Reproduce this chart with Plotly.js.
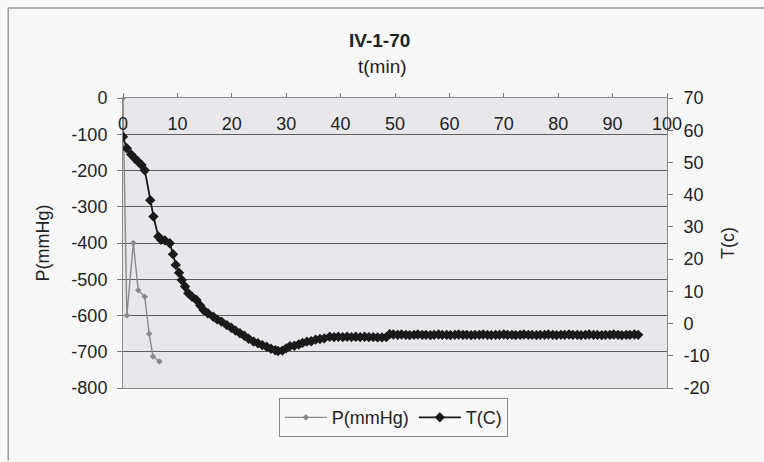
<!DOCTYPE html>
<html>
<head>
<meta charset="utf-8">
<script src="https://cdn.plot.ly/plotly-3.0.1.min.js"></script>
<style>html,body{margin:0;padding:0;background:#f8f8f8;}</style>
</head>
<body>
<div id="chart" style="width:764px;height:462px;"></div>
<script>
// Pressure series (left axis)
var tP = [0, 0.7, 1.9, 2.8, 4.0, 4.8, 5.5, 6.7];
var P = [0, -600, -400, -530, -548, -650, -713, -727];

// Temperature series (right axis)
var tT = [0, 0.7, 1.5, 2.2, 2.8, 3.4, 4.0, 5.0, 5.6, 6.5, 7.0, 7.7, 8.6, 9.2, 9.7, 10.3, 10.8, 11.4, 12.0, 12.7,
  13.5, 14.2, 14.8, 15.6, 16.6, 17.3, 18.1, 19.1, 19.9, 20.7, 21.5, 22.3, 23.1, 24.0, 24.8, 25.6, 26.4, 27.2, 28.0, 28.5,
  29.3, 30.0, 30.7, 31.5, 32.3, 33.0, 33.8, 34.6, 35.4, 36.2, 37.0, 38.0, 38.8, 39.6, 40.4, 41.2, 42.0, 42.8, 43.6, 44.4,
  45.2, 46.0, 46.8, 47.6, 48.4, 49.0, 49.7, 50.5, 51.2, 52.0, 52.7, 53.5, 54.2, 55.0, 55.7, 56.5, 57.2, 58.0, 58.7, 59.5,
  60.2, 61.0, 61.7, 62.5, 63.2, 64.0, 64.7, 65.5, 66.2, 67.0, 67.7, 68.5, 69.2, 70.0, 70.7, 71.5, 72.2, 73.0, 73.7, 74.5,
  75.2, 76.0, 76.7, 77.5, 78.2, 79.0, 79.7, 80.5, 81.2, 82.0, 82.7, 83.5, 84.2, 85.0, 85.7, 86.5, 87.2, 88.0, 88.7, 89.5,
  90.2, 91.0, 91.7, 92.5, 93.2, 94.0, 94.7];
var T = [58, 54.4, 52.5, 51.2, 50.2, 49.2, 47.6, 38.3, 33.2, 27.0, 26.0, 25.8, 24.9, 21.5, 18.2, 15.8, 13.5, 11.5, 9.4, 8.3,
  7.3, 5.6, 4.2, 3.2, 2.1, 1.3, 0.6, -0.5, -1.3, -2.2, -3.0, -3.8, -4.7, -5.6, -6.1, -6.7, -7.2, -7.8, -8.3, -8.5,
  -8.4, -7.7, -7.0, -6.9, -6.5, -6.0, -5.6, -5.5, -5.0, -4.8, -4.6, -4.1, -4.2, -4.1, -4.2, -4.1, -4.2, -4.1, -4.2, -4.1,
  -4.2, -4.2, -4.3, -4.3, -4.2, -3.3, -3.4, -3.5, -3.4, -3.5, -3.6, -3.5, -3.4, -3.5, -3.5, -3.6, -3.5, -3.4, -3.5, -3.5,
  -3.6, -3.5, -3.4, -3.5, -3.5, -3.6, -3.5, -3.5, -3.4, -3.5, -3.6, -3.5, -3.5, -3.4, -3.5, -3.5, -3.6, -3.5, -3.4, -3.5,
  -3.5, -3.6, -3.5, -3.5, -3.4, -3.5, -3.6, -3.5, -3.5, -3.4, -3.5, -3.5, -3.6, -3.5, -3.4, -3.5, -3.5, -3.6, -3.5, -3.5,
  -3.4, -3.5, -3.6, -3.5, -3.5, -3.4, -3.5];

var xTicks = [0, 10, 20, 30, 40, 50, 60, 70, 80, 90, 100];
var pTicks = [0, -100, -200, -300, -400, -500, -600, -700, -800];
var tTicks = [70, 60, 50, 40, 30, 20, 10, 0, -10, -20];

var font = "Liberation Sans, Arial, sans-serif";
var txt = "#222";

var traces = [
  {
    x: tP, y: P, name: "P(mmHg)", type: "scatter", mode: "lines+markers",
    line: {color: "#8a8a8a", width: 1.4},
    marker: {color: "#8a8a8a", size: 5, symbol: "diamond"},
    xaxis: "x", yaxis: "y"
  },
  {
    x: tT, y: T, name: "T(C)", type: "scatter", mode: "lines+markers",
    line: {color: "#1a1a1a", width: 1.8},
    marker: {color: "#1a1a1a", size: 8, symbol: "diamond"},
    xaxis: "x", yaxis: "y2"
  },
  // invisible trace to carry the tick-label axis
  {
    x: [0, 100], y: [0, 0], xaxis: "x2", yaxis: "y", mode: "none",
    showlegend: false, hoverinfo: "skip"
  }
];

var layout = {
  width: 764, height: 462,
  paper_bgcolor: "#f8f8f8",
  plot_bgcolor: "#e8e8ec",
  margin: {l: 123, r: 97, t: 98, b: 74},
  font: {family: font, size: 18, color: txt},
  showlegend: true,
  title: {text: "<b>IV-1-70</b>", font: {family: font, size: 19, color: txt},
          xref: "container", x: 0.497, yref: "container", y: 0.913, yanchor: "middle"},
  xaxis: {
    range: [0, 100], side: "top", anchor: "y",
    tickvals: xTicks, showticklabels: false,
    ticks: "outside", ticklen: 4, tickcolor: "#777",
    showgrid: false, zeroline: false,
    showline: true, linecolor: "#8a8a8a", linewidth: 1, mirror: true
  },
  xaxis2: {
    range: [0, 100], side: "top", anchor: "free", overlaying: "x", position: 0.876,
    tickvals: xTicks, ticktext: xTicks.map(String),
    ticks: "", showline: false, showgrid: false, zeroline: false,
    tickfont: {family: font, size: 18, color: txt}
  },
  yaxis: {
    range: [-800, 0],
    tickvals: pTicks, ticktext: pTicks.map(String),
    ticks: "outside", ticklen: 5, tickcolor: "#777", ticklabelstandoff: 6,
    showgrid: true, gridcolor: "#5e5e5e", gridwidth: 1,
    zeroline: false, showline: true, linecolor: "#8a8a8a", linewidth: 1,
    title: {text: "P(mmHg)", font: {family: font, size: 18, color: txt}, standoff: 17},
    tickfont: {family: font, size: 18, color: txt},
    automargin: false
  },
  yaxis2: {
    range: [-20, 70], overlaying: "y", side: "right", anchor: "x",
    tickvals: tTicks, ticktext: tTicks.map(String),
    ticks: "outside", ticklen: 5, tickcolor: "#777", ticklabelstandoff: 7,
    showgrid: false, zeroline: false, showline: true, linecolor: "#8a8a8a", linewidth: 1,
    title: {text: "T(c)", font: {family: font, size: 18, color: txt}, standoff: 12},
    tickfont: {family: font, size: 18, color: txt},
    automargin: false
  },
  legend: {
    orientation: "h", x: 0.497, xanchor: "center", y: -0.035, yanchor: "top",
    bgcolor: "rgba(0,0,0,0)", bordercolor: "#8a8a8a", borderwidth: 1,
    itemwidth: 42,
    font: {family: font, size: 18, color: txt}
  },
  annotations: [
    {text: "t(min)", xref: "paper", yref: "paper", x: 0.477, y: 1.108, showarrow: false,
     xanchor: "center", yanchor: "middle", font: {family: font, size: 19, color: txt}}
  ],
  shapes: [
    {type: "line", xref: "paper", yref: "paper", x0: -0.211, x1: 1.2, y0: 1.31, y1: 1.31,
     line: {color: "#9a9a9a", width: 1.5}},
    {type: "line", xref: "paper", yref: "paper", x0: -0.211, x1: -0.211, y0: 1.31, y1: -0.25,
     line: {color: "#9a9a9a", width: 1.5}}
  ]
};

Plotly.newPlot("chart", traces, layout, {displayModeBar: false, staticPlot: true});
</script>
</body>
</html>
